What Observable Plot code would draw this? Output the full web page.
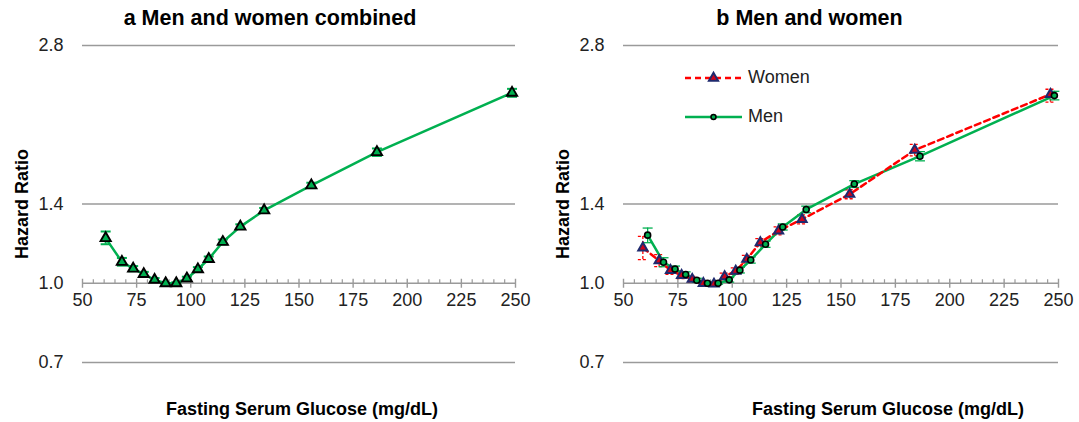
<!DOCTYPE html>
<html>
<head>
<meta charset="utf-8">
<script src="https://cdn.jsdelivr.net/npm/d3@7"></script>
<script src="https://cdn.jsdelivr.net/npm/@observablehq/plot@0.6"></script>
<style>
  body { margin: 0; background: #fff; font-family: Arial, "Liberation Sans", sans-serif; }
  #wrap { position: relative; width: 1079px; height: 422px; overflow: hidden; }
  .panel { position: absolute; top: 0; }
  .ptitle { height: 30px; line-height: 36px; text-align: center; font-weight: bold; font-size: 21.5px; color: #000; }
  .legend { position: absolute; font-size: 18px; color: #222; }
  .legend .row { position: absolute; white-space: nowrap; }
  .legend svg { position: absolute; left: 0; top: 0; overflow: visible; }
  .legend span { position: absolute; left: 63px; top: -11px; }
</style>
</head>
<body>
<div id="wrap">
  <div class="panel" id="pa" style="left:0;width:540px"><div class="ptitle">a Men and women combined</div></div>
  <div class="panel" id="pb" style="left:540px;width:539px"><div class="ptitle">b Men and women</div></div>
</div>
<script>
// ---- Data ----
const xTicks = [50, 75, 100, 125, 150, 175, 200, 225, 250];
const xMinorTicks = [55,60,65,70,80,85,90,95,105,110,115,120,130,135,140,145,155,160,165,170,180,185,190,195,205,210,215,220,230,235,240,245];
const yTicks = [Math.SQRT1_2, 1, Math.SQRT2, 2 * Math.SQRT2];
const yTickLabels = ["0.7", "1.0", "1.4", "2.8"];

// Panel a: men and women combined
const aGlucose = [60.7, 68.2, 73.4, 78.3, 83.3, 88.4, 93.3, 98.2, 103.3, 108.3, 114.8, 122.9, 133.9, 155.7, 186.0, 248.4];
const aHR      = [1.218, 1.098, 1.066, 1.041, 1.015, 1.0, 1.0, 1.021, 1.063, 1.112, 1.198, 1.281, 1.375, 1.534, 1.774, 2.30];
const aLo      = [1.186, 1.080, 1.054, 1.031, 1.007, 1.0, 0.996, 1.013, 1.053, 1.100, 1.185, 1.268, 1.360, 1.516, 1.745, 2.26];
const aHi      = [1.254, 1.117, 1.078, 1.051, 1.023, 1.0, 1.004, 1.029, 1.073, 1.124, 1.211, 1.294, 1.390, 1.552, 1.803, 2.34];

// Panel b: women
const wGlucose = [58.9, 66.4, 71.6, 76.7, 81.6, 86.7, 91.6, 96.5, 101.6, 106.7, 112.9, 121.3, 132.1, 154.0, 183.9, 246.3];
const wHR      = [1.168, 1.104, 1.058, 1.035, 1.018, 1.0, 0.997, 1.030, 1.055, 1.111, 1.195, 1.258, 1.323, 1.476, 1.790, 2.285];
const wLo      = [1.109, 1.075, 1.040, 1.020, 1.006, 1.0, 0.990, 1.015, 1.040, 1.092, 1.175, 1.236, 1.297, 1.447, 1.745, 2.208];
const wHi      = [1.227, 1.133, 1.077, 1.050, 1.030, 1.0, 1.004, 1.045, 1.070, 1.130, 1.215, 1.280, 1.349, 1.505, 1.835, 2.336];

// Panel b: men
const mGlucose = [61.1, 68.4, 73.7, 78.6, 83.7, 88.6, 93.5, 98.6, 103.5, 108.5, 115.3, 123.2, 134.0, 156.1, 186.3, 248.1];
const mHR      = [1.234, 1.096, 1.064, 1.039, 1.013, 1.0, 1.0, 1.015, 1.059, 1.107, 1.186, 1.279, 1.381, 1.543, 1.743, 2.272];
const mLo      = [1.194, 1.075, 1.050, 1.027, 1.004, 0.996, 0.996, 1.005, 1.046, 1.092, 1.170, 1.262, 1.361, 1.520, 1.708, 2.230];
const mHi      = [1.273, 1.118, 1.078, 1.051, 1.022, 1.004, 1.004, 1.025, 1.072, 1.122, 1.202, 1.296, 1.401, 1.566, 1.778, 2.315];

const titles = { x: "Fasting Serum Glucose (mg/dL)", y: "Hazard Ratio" };
const legendNames = ["Women", "Men"];

// ---- Helpers ----
const rows = (g, hr, lo, hi) => g.map((x, i) => ({ x, hr: hr[i], lo: lo[i], hi: hi[i] }));
const hCap = { draw(ctx, size) { const r = Math.sqrt(size / Math.PI); ctx.moveTo(-r, 0); ctx.lineTo(r, 0); } };
const vFull = { draw(ctx, size) { const r = Math.sqrt(size / Math.PI); ctx.moveTo(0, -r); ctx.lineTo(0, r); } };
const vUp = { draw(ctx, size) { const r = Math.sqrt(size / Math.PI); ctx.moveTo(0, -r); ctx.lineTo(0, 0); } };

const GREEN = "#00b050", RED = "#ff0000", NAVY = "#1f2a6e", GRID = "#9a9a9a";

function baseMarks(titleDx) {
  return [
    Plot.ruleY([yTicks[0], yTicks[2], yTicks[3]], { stroke: GRID, strokeWidth: 1.4 }),
    Plot.ruleY([1], { stroke: GRID, strokeWidth: 1.6 }),
    Plot.dot(xTicks, { x: d => d, y: 1, symbol: vFull, r: 4.5, stroke: GRID, strokeWidth: 1.4, fill: "none" }),
    Plot.dot(xMinorTicks, { x: d => d, y: 1, symbol: vUp, r: 4, stroke: GRID, strokeWidth: 1.2, fill: "none" }),
    Plot.text(xTicks, { x: d => d, y: 1, dy: 17, text: d => String(d), fontSize: 18, fill: "#222" }),
    Plot.axisY({ ticks: yTicks, tickSize: 0, tickPadding: 19, fontSize: 18, label: null,
      tickFormat: d => yTickLabels[yTicks.findIndex(t => Math.abs(t - d) < 1e-9)] }),
    Plot.text([titles.x], { frameAnchor: "bottom", dy: 52, dx: titleDx, text: d => d, fontSize: 18, fontWeight: "bold", fill: "#000" }),
    Plot.text([titles.y], { frameAnchor: "left", textAnchor: "middle", dx: -60, rotate: -90, text: d => d, fontSize: 18, fontWeight: "bold", fill: "#000" })
  ];
}

function errorMarks(data, color, dash, width) {
  return [
    Plot.ruleX(data, { x: "x", y1: "lo", y2: "hi", stroke: color, strokeWidth: width, strokeDasharray: dash }),
    Plot.dot(data, { x: "x", y: "lo", symbol: hCap, r: 5, stroke: color, strokeWidth: width, strokeDasharray: dash, fill: "none" }),
    Plot.dot(data, { x: "x", y: "hi", symbol: hCap, r: 5, stroke: color, strokeWidth: width, strokeDasharray: dash, fill: "none" })
  ];
}

const common = {
  height: 392,
  marginTop: 15,
  marginBottom: 60,
  x: { domain: [50, 250], axis: null },
  y: { type: "log", base: 2, domain: [Math.SQRT1_2, 2 * Math.SQRT2], axis: null },
  style: { fontFamily: "Arial, 'Liberation Sans', sans-serif", fontSize: "18px", color: "#222", background: "transparent", overflow: "visible" }
};

// ---- Panel a ----
const dataA = rows(aGlucose, aHR, aLo, aHi);
const plotA = Plot.plot({
  ...common,
  width: 540,
  marginLeft: 82,
  marginRight: 25,
  marks: [
    ...baseMarks(3),
    ...errorMarks(dataA, GREEN, null, 2),
    Plot.line(dataA, { x: "x", y: "hr", stroke: GREEN, strokeWidth: 2.5 }),
    Plot.dot(dataA, { x: "x", y: "hr", symbol: "triangle", r: 3.8, fill: GREEN, stroke: "#000", strokeWidth: 1.9 })
  ]
});
document.getElementById("pa").appendChild(plotA);

// ---- Panel b ----
const dataW = rows(wGlucose, wHR, wLo, wHi);
const dataM = rows(mGlucose, mHR, mLo, mHi);
const plotB = Plot.plot({
  ...common,
  width: 539,
  marginLeft: 83,
  marginRight: 21,
  marks: [
    ...baseMarks(47),
    ...errorMarks(dataW, RED, "3,2", 1.3),
    ...errorMarks(dataM, GREEN, null, 1.3),
    Plot.line(dataM, { x: "x", y: "hr", stroke: GREEN, strokeWidth: 2.5 }),
    Plot.line(dataW, { x: "x", y: "hr", stroke: RED, strokeWidth: 2.5, strokeDasharray: "6,4" }),
    Plot.dot(dataW, { x: "x", y: "hr", symbol: "triangle", r: 3.4, fill: "#d0021b", stroke: NAVY, strokeWidth: 2 }),
    Plot.dot(dataM, { x: "x", y: "hr", symbol: "circle", r: 3, fill: GREEN, stroke: "#000", strokeWidth: 1.6 })
  ]
});
document.getElementById("pb").appendChild(plotB);

// ---- Legend (panel b) ----
const legend = document.createElement("div");
legend.className = "legend";
legend.style.left = "685px";
legend.style.top = "0px";
const sw = [
  `<svg width="58" height="2"><line x1="0" y1="0" x2="57" y2="0" stroke="${RED}" stroke-width="2.5" stroke-dasharray="6,4"/><path d="${d3.symbol(d3.symbolTriangle, 3.4*3.4*Math.PI)()}" transform="translate(28.5,0)" fill="#d0021b" stroke="${NAVY}" stroke-width="2"/></svg>`,
  `<svg width="58" height="2"><line x1="0" y1="0" x2="57" y2="0" stroke="${GREEN}" stroke-width="2.5"/><circle cx="28.5" cy="0" r="2.5" fill="${GREEN}" stroke="#000" stroke-width="1.5"/></svg>`
];
const ys = [78, 117];
legend.innerHTML = legendNames.map((n, i) => `<div class="row" style="top:${ys[i]}px">${sw[i]}<span>${n}</span></div>`).join("");
document.getElementById("wrap").appendChild(legend);
</script>
</body>
</html>
